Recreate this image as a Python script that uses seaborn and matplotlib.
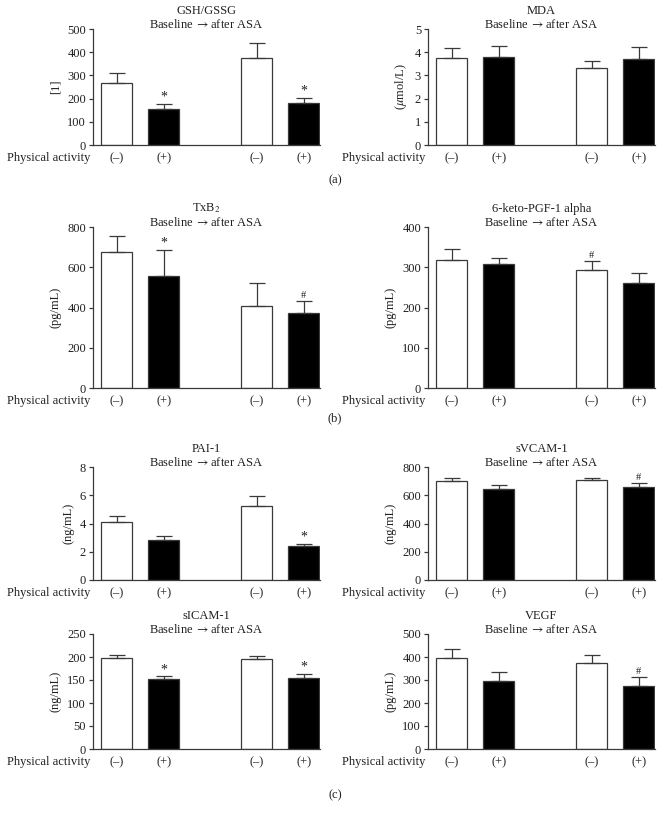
import matplotlib
matplotlib.use("Agg")
import matplotlib.pyplot as plt
import numpy as np
import pandas as pd
import seaborn as sns

sns.set_style("ticks")
plt.rcParams["font.family"] = ["Liberation Serif", "DejaVu Serif"]
plt.rcParams["mathtext.fontset"] = "stix"
plt.rcParams["axes.titley"] = 1.0

# bar order: group 1 (-), group 1 (+), group 2 (-), group 2 (+)
groups = ["g1", "g1", "g2", "g2"]
activity = ["(–)", "(+)", "(–)", "(+)"]

titles = ["GSH/GSSG", "MDA", "TxB$_2$", "6-keto-PGF-1 alpha",
          "PAI-1", "sVCAM-1", "sICAM-1", "VEGF"]
subtitle = "Baseline $\\rightarrow$after ASA"
units = ["[1]", "($\\mu$mol/L)", "(pg/mL)", "(pg/mL)",
         "(ng/mL)", "(ng/mL)", "(ng/mL)", "(pg/mL)"]
ymax = [500, 5, 800, 400, 8, 800, 250, 500]
ystep = [100, 1, 200, 100, 2, 200, 50, 100]

gsh_mean = [269, 157, 374, 182]
gsh_err = [40, 21, 65, 22]
gsh_mark = ["", "*", "", "*"]

mda_mean = [3.77, 3.79, 3.31, 3.71]
mda_err = [0.39, 0.47, 0.30, 0.51]
mda_mark = ["", "", "", ""]

txb2_mean = [676, 555, 409, 373]
txb2_err = [77, 132, 114, 57]
txb2_mark = ["", "*", "", "#"]

keto_mean = [319, 307, 292, 262]
keto_err = [26, 16, 23, 24]
keto_mark = ["", "", "#", ""]

pai_mean = [4.09, 2.86, 5.21, 2.41]
pai_err = [0.45, 0.29, 0.75, 0.17]
pai_mark = ["", "", "", "*"]

svcam_mean = [703, 644, 705, 658]
svcam_err = [21, 31, 19, 28]
svcam_mark = ["", "", "", "#"]

sicam_mean = [197, 153, 195, 155]
sicam_err = [7, 5, 7, 8]
sicam_mark = ["", "*", "", "*"]

vegf_mean = [396, 296, 375, 275]
vegf_err = [37, 37, 35, 38]
vegf_mark = ["", "", "", "#"]

means = [gsh_mean, mda_mean, txb2_mean, keto_mean, pai_mean, svcam_mean, sicam_mean, vegf_mean]
errs = [gsh_err, mda_err, txb2_err, keto_err, pai_err, svcam_err, sicam_err, vegf_err]
marks = [gsh_mark, mda_mark, txb2_mark, keto_mark, pai_mark, svcam_mark, sicam_mark, vegf_mark]

TXT = "#231f20"
LINE = "#3a3a3a"
FS = 9

# axes rectangles (figure fraction)
W = 670
H = 814
col_x = [93, 428]
row_y = [(29, 145), (227, 388), (467, 580), (634, 749)]
rects = []
for top, bot in row_y:
    for x0 in col_x:
        rects.append([x0 / W, 1 - bot / H, 227 / W, (bot - top) / H])

fig = plt.figure(figsize=(6.7, 8.14), dpi=100)

for i in range(8):
    ax = fig.add_axes(rects[i])
    df = pd.DataFrame({"group": groups, "activity": activity, "value": means[i]})
    sns.barplot(data=df, x="group", y="value", hue="activity",
                palette={"(–)": "white", "(+)": "black"},
                hue_order=["(–)", "(+)"], dodge=True, gap=0.34, width=0.67,
                errorbar=None, legend=False, edgecolor=LINE, linewidth=0.9,
                ax=ax)
    bars = sorted(ax.patches, key=lambda p: p.get_x())
    xs = [p.get_x() + p.get_width() / 2 for p in bars]
    hs = [p.get_height() for p in bars]
    ax.errorbar(xs, hs, yerr=[np.zeros(4), errs[i]], fmt="none",
                ecolor=LINE, elinewidth=0.9, capsize=5.5, capthick=0.9, zorder=1)
    for x, h, e, m in zip(xs, hs, errs[i], marks[i]):
        if m:
            ax.annotate(m, xy=(x, h + e), xytext=(0, 0 if m == "*" else 1),
                        textcoords="offset points", ha="center", va="bottom",
                        fontsize=FS + (1 if m == "*" else -1.5), color=TXT)

    ax.set_xlim(xs[0] - (xs[1] - xs[0]) * 0.51, xs[-1] + bars[-1].get_width() / 2 + 0.005)
    ax.set_ylim(0, ymax[i])
    ax.set_yticks(np.arange(0, ymax[i] + ystep[i] / 2, ystep[i]))
    ax.set_xticks(xs)
    ax.set_xticklabels(activity)
    ax.set_xlabel("")
    ax.set_ylabel(units[i], fontsize=FS, color=TXT, labelpad=4)
    ax.tick_params(axis="x", length=0, pad=5, labelsize=FS, labelcolor=TXT)
    ax.tick_params(axis="y", length=3, width=0.9, pad=2, labelsize=FS,
                   labelcolor=TXT, color=LINE)
    sns.despine(ax=ax)
    for s in ["left", "bottom"]:
        ax.spines[s].set_color(LINE)
        ax.spines[s].set_linewidth(0.9)
    ax.set_title(titles[i] + "\n" + subtitle, fontsize=FS, color=TXT,
                 pad=0.5, linespacing=1.15)
    ax.annotate("Physical activity", xy=(0, 0), xycoords="axes fraction",
                xytext=(-2, -5), textcoords="offset points", ha="right", va="top",
                fontsize=FS, color=TXT)

for lab, y in [("(a)", 180), ("(b)", 418), ("(c)", 795)]:
    fig.text(335 / W, 1 - y / H, lab, ha="center", va="center", fontsize=FS, color=TXT)

fig.savefig("out.png", dpi=100)
